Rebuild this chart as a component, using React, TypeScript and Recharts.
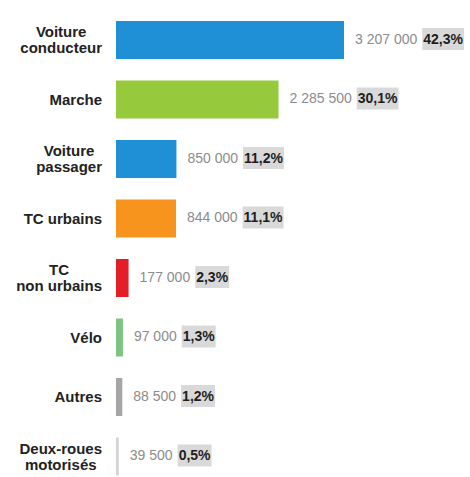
import { BarChart, Bar, XAxis, YAxis, Cell, LabelList } from "recharts";

const categories = [
  "Voiture\nconducteur",
  "Marche",
  "Voiture\npassager",
  "TC urbains",
  "TC\nnon urbains",
  "Vélo",
  "Autres",
  "Deux-roues\nmotorisés",
];
const trips = [3207000, 2285500, 850000, 844000, 177000, 97000, 88500, 39500];
const shares = ["42,3%", "30,1%", "11,2%", "11,1%", "2,3%", "1,3%", "1,2%", "0,5%"];

const barColors = [
  "#1f8fd6",
  "#97c93d",
  "#1f8fd6",
  "#f7941d",
  "#e31e26",
  "#7cc47f",
  "#a6a6a6",
  "#d4d4d4",
];

const FONT = "'Liberation Sans', Arial, sans-serif";

const data = categories.map((name, i) => ({ name, value: trips[i] }));

let ctx: CanvasRenderingContext2D | null = null;
const measure = (text: string, font: string) => {
  if (!ctx) ctx = document.createElement("canvas").getContext("2d");
  if (!ctx) return text.length * 8;
  ctx.font = font;
  return ctx.measureText(text).width;
};

const formatValue = (v: number) =>
  String(v).replace(/\B(?=(\d{3})+(?!\d))/g, " ");

const CategoryTick = (props: any) => {
  const { x, y, payload } = props;
  const lines: string[] = String(payload.value).split("\n");
  const font = `bold 15px ${FONT}`;
  const widest = Math.max(...lines.map((l) => measure(l, font)));
  const cx = x - widest / 2;
  return (
    <g>
      {lines.map((line, i) => (
        <text
          key={i}
          x={cx}
          y={y + 5.5 + (i - (lines.length - 1) / 2) * 16}
          textAnchor="middle"
          fontFamily={FONT}
          fontSize={15}
          fontWeight="bold"
          fill="#222"
        >
          {line}
        </text>
      ))}
    </g>
  );
};

const ValueLabel = (props: any) => {
  const { x, y, width, height, value, index } = props;
  const tx = x + width + 11;
  const cy = y + height / 2;
  const valueText = formatValue(value);
  const vw = measure(valueText, `14px ${FONT}`);
  const share = shares[index];
  const sw = measure(share, `bold 14px ${FONT}`);
  const bx = tx + vw + 6;
  return (
    <g>
      <text x={tx} y={cy + 3.5} fontFamily={FONT} fontSize={14} fill="#8c8c8c">
        {valueText}
      </text>
      <rect x={bx - 1} y={cy - 12} width={sw + 2} height={22} fill="#d9d9d9" />
      <text
        x={bx}
        y={cy + 3.5}
        fontFamily={FONT}
        fontSize={14}
        fontWeight="bold"
        fill="#1e1e1e"
      >
        {share}
      </text>
    </g>
  );
};

export default function App() {
  return (
    <div
      style={{
        position: "fixed",
        top: 0,
        left: 0,
        width: 470,
        height: 477,
        overflow: "hidden",
        background: "#fff",
      }}
    >
      <BarChart
        width={470}
        height={490}
        data={data}
        layout="vertical"
        margin={{ top: 10, right: 126, bottom: 4, left: 0 }}
      >
        <XAxis type="number" hide domain={[0, "dataMax"]} />
        <YAxis
          type="category"
          dataKey="name"
          width={116}
          axisLine={false}
          tickLine={false}
          tickSize={0}
          tickMargin={14}
          interval={0}
          tick={<CategoryTick />}
        />
        <Bar dataKey="value" barSize={38} isAnimationActive={false}>
          {data.map((_, i) => (
            <Cell key={i} fill={barColors[i]} />
          ))}
          <LabelList dataKey="value" content={<ValueLabel />} />
        </Bar>
      </BarChart>
    </div>
  );
}
